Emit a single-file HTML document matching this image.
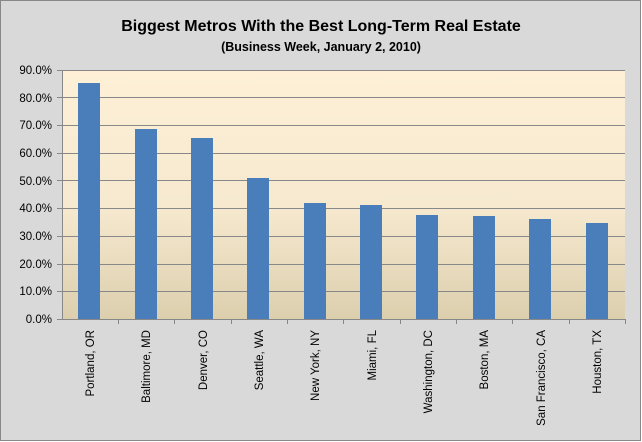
<!DOCTYPE html>
<html><head><meta charset="utf-8"><style>
body{margin:0;background:#fff}
svg{display:block;font-family:"Liberation Sans",sans-serif}
</style></head><body>
<svg width="642" height="442" viewBox="0 0 642 442">
<defs><linearGradient id="g" x1="0" y1="0" x2="0" y2="1">
<stop offset="0" stop-color="#fdf0d6"/><stop offset="0.55" stop-color="#f6e9cf"/><stop offset="1" stop-color="#dccfae"/></linearGradient></defs>
<rect x="0.5" y="0.5" width="640" height="440" fill="#d9d9d9" stroke="#888"/>
<text x="321" y="31" text-anchor="middle" font-size="16" font-weight="bold">Biggest Metros With the Best Long-Term Real Estate</text>
<text x="321" y="51" text-anchor="middle" font-size="12.5" font-weight="bold">(Business Week, January 2, 2010)</text>
<rect x="62" y="70" width="563" height="249" fill="url(#g)"/>
<g stroke="#888" stroke-width="1">
<line x1="62" x2="625" y1="70.5" y2="70.5"/><line x1="62" x2="625" y1="97.5" y2="97.5"/><line x1="62" x2="625" y1="125.5" y2="125.5"/><line x1="62" x2="625" y1="153.5" y2="153.5"/><line x1="62" x2="625" y1="180.5" y2="180.5"/><line x1="62" x2="625" y1="208.5" y2="208.5"/><line x1="62" x2="625" y1="236.5" y2="236.5"/><line x1="62" x2="625" y1="264.5" y2="264.5"/><line x1="62" x2="625" y1="291.5" y2="291.5"/>
</g>
<g fill="#4a7ebb">
<rect x="78" y="83" width="22" height="236"/>
<rect x="135" y="129" width="22" height="190"/>
<rect x="191" y="138" width="22" height="181"/>
<rect x="247" y="178" width="22" height="141"/>
<rect x="304" y="203" width="22" height="116"/>
<rect x="360" y="205" width="22" height="114"/>
<rect x="416" y="215" width="22" height="104"/>
<rect x="473" y="216" width="22" height="103"/>
<rect x="529" y="219" width="22" height="100"/>
<rect x="586" y="223" width="22" height="96"/>
</g>
<g stroke="#888">
<line x1="62" x2="625" y1="319.5" y2="319.5"/><line x1="62.5" x2="62.5" y1="70" y2="319"/>
<line x1="57" x2="62" y1="70.5" y2="70.5"/><line x1="57" x2="62" y1="97.5" y2="97.5"/><line x1="57" x2="62" y1="125.5" y2="125.5"/><line x1="57" x2="62" y1="153.5" y2="153.5"/><line x1="57" x2="62" y1="180.5" y2="180.5"/><line x1="57" x2="62" y1="208.5" y2="208.5"/><line x1="57" x2="62" y1="236.5" y2="236.5"/><line x1="57" x2="62" y1="264.5" y2="264.5"/><line x1="57" x2="62" y1="291.5" y2="291.5"/><line x1="57" x2="62" y1="319.5" y2="319.5"/>
<line x1="118.5" x2="118.5" y1="319" y2="324"/><line x1="174.5" x2="174.5" y1="319" y2="324"/><line x1="231.5" x2="231.5" y1="319" y2="324"/><line x1="287.5" x2="287.5" y1="319" y2="324"/><line x1="343.5" x2="343.5" y1="319" y2="324"/><line x1="400.5" x2="400.5" y1="319" y2="324"/><line x1="456.5" x2="456.5" y1="319" y2="324"/><line x1="512.5" x2="512.5" y1="319" y2="324"/><line x1="569.5" x2="569.5" y1="319" y2="324"/><line x1="625.5" x2="625.5" y1="319" y2="324"/>
</g>
<g font-size="11.5" text-anchor="end" fill="#000">
<text x="52" y="74">90.0%</text><text x="52" y="102">80.0%</text><text x="52" y="129">70.0%</text><text x="52" y="157">60.0%</text><text x="52" y="185">50.0%</text><text x="52" y="212">40.0%</text><text x="52" y="240">30.0%</text><text x="52" y="268">20.0%</text><text x="52" y="295">10.0%</text><text x="52" y="323">0.0%</text>
</g>
<g font-size="11.5" text-anchor="end">
<text transform="translate(94,330) rotate(-90)">Portland, OR</text>
<text transform="translate(150,330) rotate(-90)">Baltimore, MD</text>
<text transform="translate(207,330) rotate(-90)">Denver, CO</text>
<text transform="translate(263,330) rotate(-90)">Seattle, WA</text>
<text transform="translate(319,330) rotate(-90)">New York, NY</text>
<text transform="translate(376,330) rotate(-90)">Miami, FL</text>
<text transform="translate(432,330) rotate(-90)">Washington, DC</text>
<text transform="translate(488,330) rotate(-90)">Boston, MA</text>
<text transform="translate(545,330) rotate(-90)">San Francisco, CA</text>
<text transform="translate(601,330) rotate(-90)">Houston, TX</text>
</g>
</svg>
</body></html>
